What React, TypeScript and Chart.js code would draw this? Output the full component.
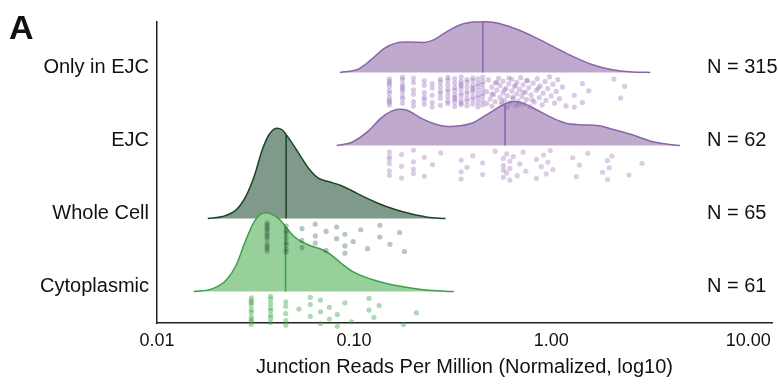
import React, { useEffect, useRef } from "react";
import { Chart, registerables } from "chart.js";

Chart.register(...registerables);

// ---------- data ----------
const categories = ["Only in EJC", "EJC", "Whole Cell", "Cytoplasmic"];
const nLabels = ["N = 315", "N = 62", "N = 65", "N = 61"];
const xTickValues = [0.01, 0.1, 1, 10];
const xTickLabels = ["0.01", "0.10", "1.00", "10.00"];
const xTitle = "Junction Reads Per Million (Normalized, log10)";
const medians = [0.45, 0.583, 0.0452, 0.0449];

// kernel density outlines (value, relative density)
const onlyEjcDensX = [0.0847, 0.105, 0.122, 0.143, 0.163, 0.187, 0.227, 0.255, 0.297, 0.346, 0.404, 0.454, 0.529, 0.642, 0.809, 1.02, 1.285, 1.62, 2.04, 2.58, 3.18];
const onlyEjcDensY = [0, 0.045, 0.174, 0.333, 0.401, 0.415, 0.411, 0.448, 0.562, 0.653, 0.689, 0.695, 0.675, 0.607, 0.493, 0.356, 0.219, 0.105, 0.037, 0.004, 0];

const ejcDensX = [0.0815, 0.0969, 0.1175, 0.137, 0.154, 0.17, 0.187, 0.218, 0.255, 0.297, 0.346, 0.404, 0.471, 0.55, 0.606, 0.654, 0.72, 0.841, 1.02, 1.19, 1.39, 1.75, 2.04, 2.58, 3.24, 4.09, 4.5];
const ejcDensY = [0, 0.041, 0.192, 0.374, 0.466, 0.497, 0.479, 0.374, 0.297, 0.26, 0.27, 0.315, 0.421, 0.534, 0.589, 0.603, 0.579, 0.489, 0.374, 0.305, 0.284, 0.27, 0.223, 0.147, 0.055, 0.01, 0];

const wholeDensX = [0.0181, 0.0215, 0.0252, 0.0282, 0.0311, 0.0342, 0.037, 0.0404, 0.0431, 0.0466, 0.0523, 0.0587, 0.0659, 0.074, 0.0863, 0.0969, 0.113, 0.132, 0.16, 0.194, 0.235, 0.291];
const wholeDensY = [0, 0.027, 0.119, 0.301, 0.575, 0.941, 1.147, 1.237, 1.215, 1.1, 0.895, 0.689, 0.552, 0.507, 0.448, 0.384, 0.292, 0.21, 0.127, 0.064, 0.018, 0];

const cytoDensX = [0.01534, 0.0192, 0.0224, 0.0252, 0.0282, 0.0311, 0.0336, 0.0358, 0.0392, 0.0423, 0.0457, 0.0494, 0.0544, 0.061, 0.0699, 0.0769, 0.0863, 0.0969, 0.113, 0.132, 0.16, 0.21, 0.264, 0.321];
const cytoDensY = [0, 0.041, 0.155, 0.36, 0.703, 0.955, 1.059, 1.078, 1.045, 0.977, 0.863, 0.758, 0.681, 0.621, 0.566, 0.497, 0.384, 0.284, 0.201, 0.141, 0.086, 0.037, 0.01, 0];

// individual observations
const onlyEjcValues = [
  0.151, 0.151, 0.151, 0.151, 0.151, 0.151, 0.151, 0.151, 0.151, 0.151,
  0.176, 0.176, 0.176, 0.176, 0.176, 0.176, 0.176, 0.176, 0.176,
  0.2, 0.2, 0.2, 0.2, 0.2, 0.2,
  0.227, 0.227, 0.227, 0.227, 0.227, 0.227,
  0.249, 0.249, 0.249, 0.249, 0.249,
  0.274, 0.274, 0.274, 0.274, 0.274, 0.274, 0.274,
  0.299, 0.299, 0.299, 0.299, 0.299, 0.299, 0.299, 0.299,
  0.324, 0.324, 0.324, 0.324, 0.324, 0.324, 0.324, 0.324, 0.324,
  0.349, 0.349, 0.349, 0.349, 0.349, 0.349, 0.349, 0.349, 0.349, 0.349,
  0.374, 0.374, 0.374, 0.374, 0.374, 0.374, 0.374, 0.374,
  0.4, 0.4, 0.4, 0.4, 0.4, 0.4, 0.4, 0.4, 0.4,
  0.425, 0.425, 0.425, 0.425, 0.425, 0.425, 0.425, 0.425,
  0.449, 0.449, 0.449, 0.449, 0.449, 0.449, 0.449, 0.449,
  0.47, 0.47, 0.48, 0.49, 0.5, 0.5, 0.51, 0.52, 0.52, 0.53, 0.54, 0.55, 0.55, 0.56, 0.57, 0.57,
  0.58, 0.59, 0.6, 0.6, 0.61, 0.62, 0.63, 0.63, 0.64, 0.65, 0.66, 0.67, 0.67, 0.68, 0.69, 0.7,
  0.71, 0.72, 0.73, 0.74, 0.75, 0.75, 0.77, 0.78, 0.79, 0.81, 0.82, 0.84, 0.85, 0.87, 0.88, 0.9,
  0.91, 0.93, 0.94, 0.96, 0.98, 1.0, 1.02, 1.04, 1.06, 1.08, 1.1, 1.14, 1.19,
  0.5, 0.53, 0.56, 0.58, 0.61, 0.64, 0.66, 0.69, 0.72, 0.76, 0.8, 0.86,
  1.31, 1.31, 1.44, 1.44, 1.55, 2.08, 2.25, 2.36,
];

const ejcValues = [
  0.151, 0.151, 0.151, 0.151, 0.151, 0.151, 0.174, 0.174, 0.174, 0.2, 0.2, 0.2, 0.2,
  0.227, 0.227, 0.25, 0.275, 0.349, 0.349, 0.349, 0.374, 0.4, 0.449, 0.449, 0.519,
  0.572, 0.572, 0.572, 0.572, 0.594, 0.594, 0.617, 0.617, 0.617, 0.642, 0.672, 0.693,
  0.72, 0.743, 0.841, 0.841, 0.891, 0.915, 0.944, 0.962, 0.989, 1.02, 1.285, 1.34,
  1.39, 1.53, 1.82, 1.93, 1.93, 1.97, 2.03, 2.48, 2.89,
];

const wholeValues = [
  0.0362, 0.0362, 0.0362, 0.0362, 0.0362, 0.0362, 0.0362, 0.0362, 0.0362, 0.0362, 0.0362, 0.0362,
  0.0452, 0.0452, 0.0452, 0.0452, 0.0452, 0.0452, 0.0452, 0.0452,
  0.0544, 0.0544, 0.0544, 0.0635, 0.0635, 0.0635, 0.0721, 0.0721, 0.0815, 0.0815,
  0.0898, 0.0898, 0.0898, 0.0989, 0.108, 0.117, 0.135, 0.135, 0.152, 0.17, 0.18,
];

const cytoValues = [
  0.0301, 0.0301, 0.0301, 0.0301, 0.0301, 0.0301, 0.0301, 0.0301, 0.0301, 0.0301,
  0.0377, 0.0377, 0.0377, 0.0377, 0.0377, 0.0377, 0.0377, 0.0377,
  0.045, 0.045, 0.045, 0.045, 0.045,
  0.0525, 0.0599, 0.0599, 0.0599, 0.0675, 0.0675, 0.0675, 0.0749, 0.0749,
  0.0822, 0.0822, 0.0898, 0.0969, 0.119, 0.119, 0.126, 0.134, 0.178, 0.207,
];

// ---------- styling ----------
const fills = ["#bfa9cc", "#bfa9cc", "#7f9a8a", "#98d09c"];
const lines = ["#8a64a9", "#8a64a9", "#1b4527", "#3d9f4b"];
const pointColors = ["rgba(142,100,178,0.34)", "rgba(142,100,178,0.32)", "rgba(40,85,55,0.33)", "rgba(60,165,75,0.42)"];
const FONT = '"Liberation Sans", Arial, Helvetica, sans-serif';

function interpAt(xs: number[], ys: number[], v: number) {
  const lv = Math.log10(v);
  for (let k = 0; k < xs.length - 1; k++) {
    const a = Math.log10(xs[k]);
    const b = Math.log10(xs[k + 1]);
    if (lv >= a && lv <= b) {
      const t = (lv - a) / (b - a);
      return ys[k] + t * (ys[k + 1] - ys[k]);
    }
  }
  return 0;
}

function jitter(i: number) {
  const f = (i * 0.6180339887 + 0.21) % 1;
  return 0.06 + 0.42 * f;
}

export default function App() {
  const ref = useRef<HTMLCanvasElement | null>(null);

  useEffect(() => {
    if (!ref.current) return;
    Chart.defaults.font.family = FONT;
    const dens = [
      [onlyEjcDensX, onlyEjcDensY],
      [ejcDensX, ejcDensY],
      [wholeDensX, wholeDensY],
      [cytoDensX, cytoDensY],
    ];
    const vals = [onlyEjcValues, ejcValues, wholeValues, cytoValues];
    const datasets: any[] = [];
    categories.forEach((_, ci) => {
      const base = 3 - ci;
      const [xs, ys] = dens[ci];
      datasets.push({
        type: "line",
        data: xs.map((x, k) => ({ x, y: base + ys[k] })),
        borderColor: lines[ci],
        backgroundColor: fills[ci],
        borderWidth: 1.5,
        fill: { value: base },
        pointRadius: 0,
        cubicInterpolationMode: "monotone",
        order: 20 - ci,
        clip: false,
      });
      const h = interpAt(xs, ys, medians[ci]);
      datasets.push({
        type: "line",
        data: [
          { x: medians[ci], y: base },
          { x: medians[ci], y: base + h },
        ],
        borderColor: lines[ci],
        borderWidth: 1.5,
        pointRadius: 0,
        fill: false,
        order: 10,
        clip: false,
      });
      datasets.push({
        type: "scatter",
        data: vals[ci].map((v, i) => ({ x: v, y: base - jitter(i) })),
        pointRadius: 2.6,
        pointBackgroundColor: pointColors[ci],
        pointBorderWidth: 0,
        order: ci,
        clip: false,
      });
    });

    const textPlugin = {
      id: "texts",
      afterDraw(chart: any) {
        const ctx = chart.ctx;
        const y = chart.scales.y;
        ctx.save();
        ctx.fillStyle = "#111";
        ctx.textBaseline = "alphabetic";
        ctx.textAlign = "left";
        ctx.font = `bold 34px ${FONT}`;
        ctx.fillText("A", 9, 39);
        ctx.font = `20px ${FONT}`;
        ctx.textBaseline = "middle";
        nLabels.forEach((t, ci) => {
          ctx.fillText(t, 707, y.getPixelForValue(3 - ci + 0.07));
        });
        ctx.restore();
      },
    };

    const chart = new Chart(ref.current, {
      type: "scatter",
      data: { datasets },
      options: {
        animation: false,
        responsive: false,
        devicePixelRatio: 1,
        layout: { padding: { top: 22, left: 0, right: 0, bottom: 0 } },
        plugins: { legend: { display: false }, tooltip: { enabled: false } },
        scales: {
          x: {
            type: "logarithmic",
            min: 0.01,
            max: 13.2,
            grid: { display: false, drawTicks: false },
            border: { display: true, color: "#222", width: 1.5 },
            afterBuildTicks: (s: any) => {
              s.ticks = xTickValues.map((v) => ({ value: v }));
            },
            afterFit: (s: any) => {
              s.height = 62;
            },
            ticks: {
              autoSkip: false,
              maxRotation: 0,
              padding: 7,
              color: "#111",
              font: { size: 18 },
              callback: (_v: any, i: number) => xTickLabels[i],
            },
            title: {
              display: true,
              text: xTitle,
              color: "#111",
              font: { size: 20 },
              padding: { top: 0, bottom: 6 },
            },
          },
          y: {
            type: "linear",
            min: -0.43,
            max: 3.69,
            grid: { display: false, drawTicks: false },
            border: { display: true, color: "#222", width: 1.5 },
            afterBuildTicks: (s: any) => {
              s.ticks = [0.07, 1.07, 2.07, 3.07].map((v) => ({ value: v }));
            },
            afterFit: (s: any) => {
              s.width = 157;
            },
            ticks: {
              autoSkip: false,
              padding: 8,
              color: "#111",
              font: { size: 20 },
              callback: (_v: any, i: number) => categories[3 - i],
            },
          },
        },
      } as any,
      plugins: [textPlugin],
    } as any);
    return () => chart.destroy();
  }, []);

  return (
    <div style={{ position: "absolute", left: 0, top: 0, width: 778, height: 385, background: "#fff" }}>
      <canvas ref={ref} width={778} height={385} />
    </div>
  );
}
